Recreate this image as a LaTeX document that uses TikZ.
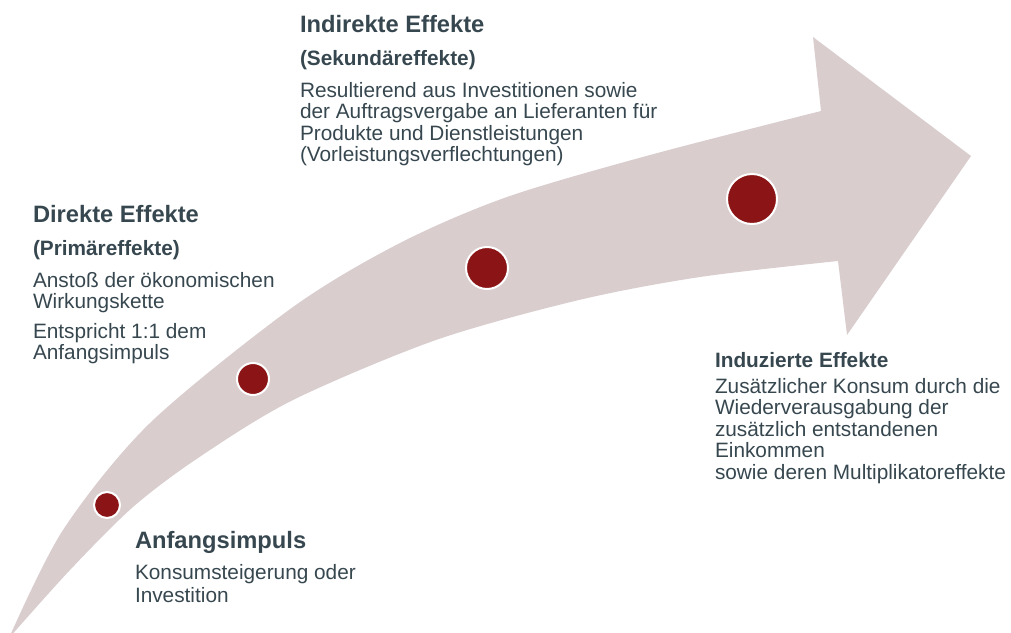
\documentclass[tikz,border=0pt]{standalone}
\usepackage{fontspec}
\setmainfont{Liberation Sans}
\definecolor{arrowc}{RGB}{217,205,206}
\definecolor{dotc}{RGB}{139,21,22}
\definecolor{txtc}{RGB}{55,71,79}
\newcommand\fntHead{\fontsize{23.7}{26}\selectfont\bfseries}
\newcommand\fntSub{\fontsize{20.8}{23}\selectfont\bfseries}
\newcommand\fntBody{\fontsize{20.8}{21.6}\selectfont}
\newcommand\fntBodyB{\fontsize{20.8}{23.3}\selectfont}
\tikzset{
  dot/.style={circle, fill=dotc, draw=white, line width=2pt, inner sep=0pt},
  txt/.style={anchor=base west, inner sep=0pt, outer sep=0pt, text=txtc, align=left},
}
\begin{document}
\begin{tikzpicture}[x=1pt,y=-1pt]
\useasboundingbox (0,0) rectangle (1011,632);
\clip (0,0) rectangle (1011,632);
% arrow
\fill[arrowc] plot[smooth] coordinates {(9,638) (63,530) (150,423) (293,307) (400,243) (507,197) (650,155) (821,111)}
  -- (813,37) -- (971,156) -- (847,335) -- (838,261)
  -- plot[smooth] coordinates {(838,261) (700,277) (579,300) (436,340) (293,400) (198,458) (133,507) (70,570) (9,638)} -- cycle;
% dots
\node[dot, minimum size=26pt] (d1) at (107,505) {};
\node[dot, minimum size=32pt] (d2) at (253,379) {};
\node[dot, minimum size=42pt] (d3) at (487,268) {};
\node[dot, minimum size=50pt] (d4) at (752,199) {};
% Indirekte (multi-line nodes: base = last line)
\node[txt, font=\fntHead] (ih) at (300,32) {Indirekte Effekte};
\node[txt, font=\fntSub] (is) at (300,65) {(Sekundäreffekte)};
\node[txt, font=\fntBody] (ib) at (300,161.8) {Resultierend aus Investitionen sowie\\der Auftragsvergabe an Lieferanten für\\Produkte und Dienstleistungen\\(Vorleistungsverflechtungen)};
% Direkte
\node[txt, font=\fntHead] (dh) at (33,222) {Direkte Effekte};
\node[txt, font=\fntSub] (ds) at (33,255) {(Primäreffekte)};
\node[txt, font=\fntBody] (db1) at (33,308.6) {Anstoß der ökonomischen\\Wirkungskette};
\node[txt, font=\fntBody] (db2) at (33,359.6) {Entspricht 1:1 dem\\Anfangsimpuls};
% Anfangsimpuls
\node[txt, font=\fntHead] (ah) at (135,548) {Anfangsimpuls};
\node[txt, font=\fntBodyB] (ab) at (135,602.3) {Konsumsteigerung oder\\Investition};
% Induzierte
\node[txt, font=\fntSub] (nh) at (715,367) {Induzierte Effekte};
\node[txt, font=\fntBody] (nb) at (715,479.4) {Zusätzlicher Konsum durch die\\Wiederverausgabung der\\zusätzlich entstandenen\\Einkommen\\sowie deren Multiplikatoreffekte};
\end{tikzpicture}
\end{document}
